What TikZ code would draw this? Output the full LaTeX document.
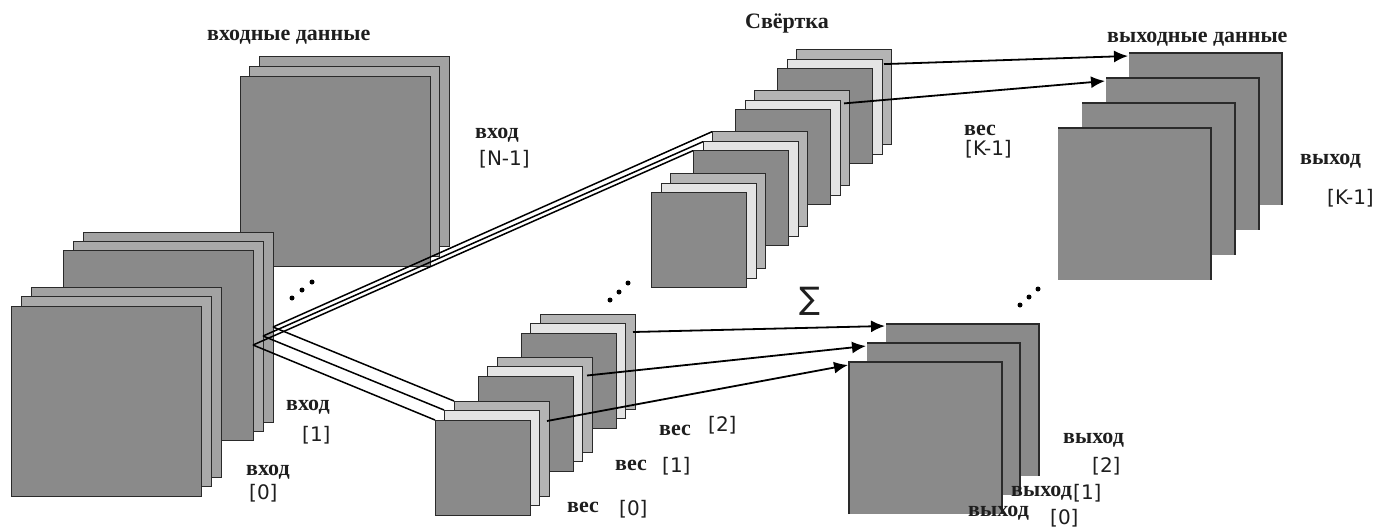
\documentclass[tikz,border=0pt]{standalone}
\usepackage{fontspec}
\setmainfont{Liberation Serif}
\newfontfamily\idxfont{DejaVu Sans}
\usetikzlibrary{arrows.meta}

\definecolor{sqdark}{HTML}{8A8A8A}
\definecolor{sqmid}{HTML}{B4B4B4}
\definecolor{sqlight}{HTML}{E4E4E4}
\definecolor{inbacka}{HTML}{A9A9A9}
\definecolor{inbackb}{HTML}{A2A2A2}
\definecolor{edgec}{HTML}{2A2A2A}
\definecolor{ink}{HTML}{1E1E1E}

\begin{document}
\begin{tikzpicture}[x=1pt,y=-1pt,
  plate/.style={draw=edgec, line width=1pt, inner sep=0pt, outer sep=0pt, anchor=north west},
  bigplate/.style={plate, minimum width=190pt, minimum height=190pt},
  smallplate/.style={plate, minimum width=95pt, minimum height=95pt},
  outplate/.style={fill=sqdark, inner sep=0pt, outer sep=0pt, anchor=north west,
                   minimum width=153pt, minimum height=152pt},
  rim/.style={draw=edgec, line width=1.1pt},
  wire/.style={draw=black, line width=1.5pt},
  flow/.style={draw=black, line width=1.8pt, -{Latex[length=14pt,width=12pt]}},
  head/.style={font=\bfseries\fontsize{22}{24}\selectfont, text=ink, inner sep=0pt, anchor=base west},
  idx/.style={font=\idxfont\fontsize{20}{22}\selectfont, text=ink, inner sep=0pt, anchor=base west}
]
\fill[white] (0,0) rectangle (1376,528);
\useasboundingbox (0,0) rectangle (1376,528);

% input channel N-1
\node[bigplate, fill=inbackb] (inNc) at (259,56) {};
\node[bigplate, fill=inbacka] (inNb) at (249,66) {};
\node[bigplate, fill=sqdark]  (inNa) at (240,76) {};
% input channel 1
\node[bigplate, fill=inbackb] (in1c) at (83,232) {};
\node[bigplate, fill=inbacka] (in1b) at (73,241) {};
\node[bigplate, fill=sqdark]  (in1a) at (63,250) {};
% input channel 0
\node[bigplate, fill=inbackb] (in0c) at (31,287) {};
\node[bigplate, fill=inbacka] (in0b) at (21,296) {};
\node[bigplate, fill=sqdark]  (in0a) at (11,306) {};

% kernels for output K-1 (upper row)
\foreach \k in {3,2,1,0} {
  \node[smallplate, fill=sqmid]   (tm\k) at ({651+42*\k+19},{192-41.3*\k-19}) {};
  \node[smallplate, fill=sqlight] (tl\k) at ({651+42*\k+10},{192-41.3*\k-9}) {};
  \node[smallplate, fill=sqdark]  (td\k) at ({651+42*\k},{192-41.3*\k}) {};
}
% kernels for outputs 0..2 (lower row)
\foreach \k in {2,1,0} {
  \node[smallplate, fill=sqmid]   (bm\k) at ({435+43*\k+19},{420-43.5*\k-19}) {};
  \node[smallplate, fill=sqlight] (bl\k) at ({435+43*\k+9},{420-43.5*\k-10}) {};
  \node[smallplate, fill=sqdark]  (bd\k) at ({435+43*\k},{420-43.5*\k}) {};
}

% output maps 0..2
\node[outplate] (ob2) at (886,324) {};
\draw[rim] (ob2.north west) -- (ob2.north east) -- (ob2.south east);
\node[outplate] (ob1) at (867,343) {};
\draw[rim] (ob1.north west) -- (ob1.north east) -- (ob1.south east);
\node[outplate] (ob0) at (849,362) {};
\draw[rim] (ob0.south west) -- (ob0.north west) -- (ob0.north east) -- (ob0.south east);

% output maps up to K-1
\node[outplate] (ot3) at (1129,53) {};
\draw[rim] (ot3.north west) -- (ot3.north east) -- (ot3.south east);
\node[outplate] (ot2) at (1106,78) {};
\draw[rim] (ot2.north west) -- (ot2.north east) -- (ot2.south east);
\node[outplate] (ot1) at (1082,103) {};
\draw[rim] (ot1.north west) -- (ot1.north east) -- (ot1.south east);
\node[outplate] (ot0) at (1058,128) {};
\draw[rim] (ot0.north west) -- (ot0.north east) -- (ot0.south east);

% input channels feeding the kernels
\draw[wire] (in1a.east) -- (td1.north west);
\draw[wire] (in1b.east) -- (tl1.north west);
\draw[wire] (in1c.east) -- (tm1.north west);
\draw[wire] (in1a.east) -- (bd0.north west);
\draw[wire] (in1b.east) -- (bl0.north west);
\draw[wire] (in1c.east) -- (bm0.north west);

% kernel results to output maps
\draw[flow] ([shift={(2,5)}]tl3.north east) -- ([shift={(-1,3)}]ot3.north west);
\draw[flow] ([shift={(4,3)}]tl2.north east) -- ([shift={(-1,3)}]ot2.north west);
\draw[flow] ([shift={(8,9)}]bl2.north east) -- ([shift={(-1,2)}]ob2.north west);
\draw[flow] ([shift={(5,9)}]bl1.north east) -- ([shift={(-1,3)}]ob1.north west);
\draw[flow] ([shift={(8,11)}]bl0.north east) -- ([shift={(-1,3)}]ob0.north west);

% ellipses
\foreach \p in {(292,298),(302,290),(312,282),
                (610,300),(619,292),(628,283),
                (1020,305),(1029,297),(1038,289)}
  \fill[black] \p circle (2.5pt);

% summation sign
\node[font=\idxfont\fontsize{31}{33}\selectfont, text=ink, inner sep=0pt] (sum) at (809.5,301) {∑};

% captions
\node[head] (capIn)   at (207,40)   {входные данные};
\node[head] (capConv) at (745,28)   {Свёртка};
\node[head] (capOut)  at (1107,42)  {выходные данные};

\node[head] (lInN)  at (475,138) {вход};
\node[idx]  (iInN)  at (479,165) {[N-1]};
\node[head] (lIn1)  at (286,410) {вход};
\node[idx]  (iIn1)  at (302,441) {[1]};
\node[head] (lIn0)  at (246,475) {вход};
\node[idx]  (iIn0)  at (249,499) {[0]};

\node[head] (lWK)   at (964,135) {вес};
\node[idx]  (iWK)   at (965,155) {[K-1]};
\node[head] (lW0)   at (567,512) {вес};
\node[idx]  (iW0)   at (619,515) {[0]};
\node[head] (lW1)   at (615,470) {вес};
\node[idx]  (iW1)   at (662,472) {[1]};
\node[head] (lW2)   at (659,435) {вес};
\node[idx]  (iW2)   at (708,431) {[2]};

\node[head] (lOK)   at (1300,164) {выход};
\node[idx]  (iOK)   at (1327,204) {[K-1]};
\node[head] (lO2)   at (1063,443) {выход};
\node[idx]  (iO2)   at (1092,472) {[2]};
\node[head] (lO1)   at (1011,496) {выход};
\node[idx]  (iO1)   at (1073,499) {[1]};
\node[head] (lO0)   at (968,516)  {выход};
\node[idx]  (iO0)   at (1050,524) {[0]};
\end{tikzpicture}
\end{document}
